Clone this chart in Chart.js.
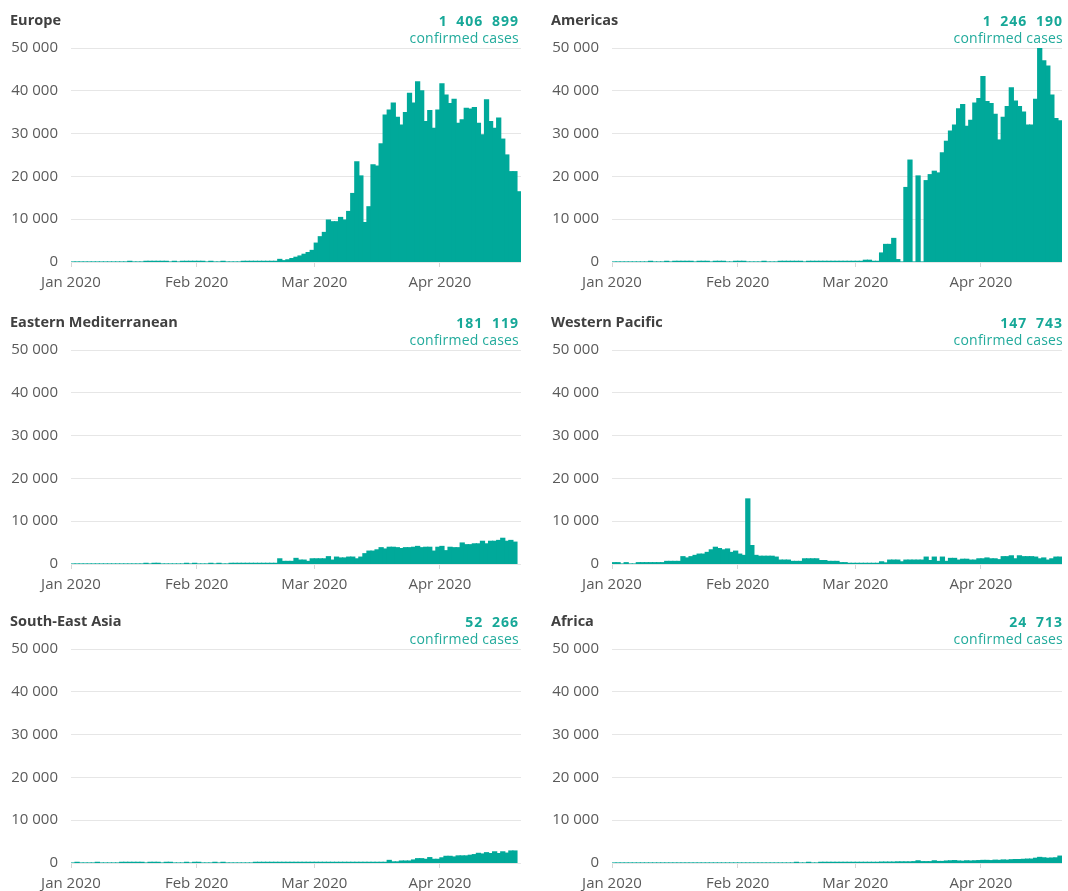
<!DOCTYPE html>
<html>
<head>
<meta charset="utf-8">
<script src="https://cdn.jsdelivr.net/npm/chart.js@4.4.1/dist/chart.umd.min.js"></script>
<style>
  body { margin: 0; background: #fff; width: 1068px; height: 891px; overflow: hidden; position: relative;
         font-family: "Open Sans", "Noto Sans", sans-serif; }
  canvas { position: absolute; z-index: 0; }
  .ttl { position: absolute; z-index: 1; font-size: 14.5px; line-height: 16px; font-weight: 700; color: #404040; white-space: nowrap; }
  .tot { position: absolute; z-index: 1; font-size: 14px; line-height: 16px; font-weight: 700; color: #17a898;
         letter-spacing: 1px; word-spacing: 4px; white-space: nowrap; text-align: right; }
  .sub { position: absolute; z-index: 1; font-size: 14px; line-height: 16px; color: #22ab9c; letter-spacing: 0.2px;
         white-space: nowrap; text-align: right; }
</style>
</head>
<body>
<script>
// Casos confirmados diarios por región OMS, 1 ene – 20 abr 2020 (111 días).
// Valores; 150 = trazo casi nulo sobre la base.
const DAYS = 111;
const monthStarts = [0, 31, 60, 91];
const monthLabels = ['Jan 2020', 'Feb 2020', 'Mar 2020', 'Apr 2020'];
const yMax = 50000, yStep = 10000;

const regions = ['Europe', 'Americas', 'Eastern Mediterranean', 'Western Pacific', 'South-East Asia', 'Africa'];
const totals = ['1 406 899', '1 246 190', '181 119', '147 743', '52 266', '24 713'];

const europe = [
  0,0,0,0,0,0,0,0,0,0, 0,0,0,0,150,0,0,0,150,150, 150,150,150,150,0,150,0,150,150,150, 150,
  150,150,0,150,0,0,150,0,0,0, 0,150,150,150,150,150,150,150,150,150, 600,300,500,800,1100,1400,1800,2200,2700,
  4400,5900,6900,9800,9400,9400,10400,9800,11800,16000, 23400,20100,9200,12900,22700,22400,27600,34300,35500,37100,
  33800,32000,34900,39400,37100,42100,40000,32800,35400,31200, 35500,
  41600,39000,37000,38000,32400,33200,35900,35700,36100,32400, 29700,37900,32800,31200,33600,28700,25000,21100,21100,16400
];
const americas = [
  0,0,0,0,0,0,0,0,0,150, 0,0,0,150,0,150,150,150,150,150, 0,150,150,150,0,150,150,150,0,0, 150,
  150,150,0,0,0,0,150,0,0,0, 150,150,150,150,150,150,0,150,150,150, 150,150,150,150,150,150,150,150,150,
  150,150,400,400,150,150,2100,4100,4100,5500, 550,0,17400,23800,0,20100,0,19000,20400,21200,
  20800,25500,28200,30600,32000,35800,36800,31700,33100,37100, 38200,
  43300,37500,37000,34500,28500,33800,36300,40700,37600,36300, 35000,32000,32000,38000,50000,47000,45800,39000,33500,33000
];
const eastMed = [
  0,0,0,0,0,0,0,0,0,0, 0,0,0,0,0,0,0,0,150,0, 150,150,0,0,0,0,0,0,150,0, 150,
  0,0,0,150,0,150,0,0,150,150, 150,150,150,150,150,150,150,150,150,150, 1200,600,600,600,1300,900,900,600,1200,
  1200,1200,1200,1700,900,1600,1400,1400,1600,1600, 1200,1600,2400,3000,3000,3300,3800,3500,3900,3900,
  3800,3600,3800,3800,3900,4100,3800,3900,3900,3000, 3900,
  4100,3100,3900,3800,3800,4900,4500,4500,4700,4700, 5300,4700,5300,5300,5500,6000,5300,5500,5100,null
];
const westPac = [
  300,300,0,300,0,0,300,300,300,300, 300,300,300,600,600,600,600,1700,1400,1700, 2000,2300,2300,2700,3300,3900,3600,3300,3500,2700, 3000,
  2300,2000,15200,4300,2000,1800,1800,1800,1800,1600, 900,900,900,600,600,600,1200,1200,1200,1200, 800,800,600,600,600,300,300,150,150,
  150,150,150,150,150,150,500,250,900,900, 900,500,900,900,900,900,900,1600,800,1600,
  600,1600,600,1300,1300,900,1100,1100,900,900, 1200,
  1200,1400,1200,1200,1000,1700,1700,1900,1200,1900, 1700,1700,1700,1600,1200,1400,900,1200,1600,1600
];
const seAsia = [
  0,150,0,0,0,0,150,0,0,0, 0,0,150,150,150,150,150,150,0,150, 150,150,0,150,150,0,0,0,150,0, 150,
  150,0,0,0,150,0,150,0,0,0, 0,0,0,0,150,150,150,150,150,150, 150,150,150,150,150,150,150,150,150,
  150,150,150,150,150,150,150,150,150,150, 150,150,150,150,150,150,150,150,600,250,
  250,450,450,450,700,1000,1000,850,1250,850, 850,
  1200,1550,1550,1400,1650,1650,1650,1800,1950,2250, 2100,2400,2200,2600,2200,2600,2300,2800,2800,null
];
const africa = [
  0,0,0,0,0,0,0,0,0,0, 0,0,0,0,0,0,0,0,0,0, 0,0,0,0,0,0,0,0,0,0, 0,
  0,0,0,0,0,0,0,0,0,0, 0,0,0,0,150,0,0,150,0,0, 150,150,150,150,150,150,150,150,150,
  150,150,150,150,150,150,200,200,200,200, 250,250,250,250,300,500,300,300,300,500,
  350,350,450,500,550,450,400,500,450,500, 550,
  600,600,550,650,600,700,650,750,800,800, 850,900,900,1100,1300,1200,1100,1150,1200,1600
];
const series = [europe, americas, eastMed, westPac, seAsia, africa];

const TEAL = '#00a99a';
const TICK_COLOR = '#5a5a5a';
const TICK_FONT = { family: '"Open Sans", sans-serif', size: 15 };

// Posición de cada panel: columna (x del lienzo, borde del texto), fila (desplazamiento vertical)
const colX = [0, 541];
const colRight = [519, 1063];
const rowOff = [0, 302, 601];
const PAD_TOP = 24;   // >= media etiqueta + padding del eje y, así el área queda fija

function miles(v) { return String(v).replace(/\B(?=(\d{3})+(?!\d))/g, ' '); }

function addText(cls, text, style) {
  const d = document.createElement('div');
  d.className = cls;
  d.textContent = text;
  Object.assign(d.style, style);
  document.body.appendChild(d);
}

function panel(k) {
  const col = k % 2, off = rowOff[Math.floor(k / 2)];
  const x0 = colX[col];

  addText('ttl', regions[k], { left: (x0 + 10) + 'px', top: (12 + off) + 'px' });
  addText('tot', totals[k], { right: (1068 - colRight[col]) + 'px', top: (13 + off) + 'px' });
  addText('sub', 'confirmed cases', { right: (1068 - colRight[col]) + 'px', top: (30 + off) + 'px' });

  const cv = document.createElement('canvas');
  cv.width = 529; cv.height = PAD_TOP + 214 + 32;
  cv.style.left = x0 + 'px';
  cv.style.top = (48 - PAD_TOP + off) + 'px';
  document.body.appendChild(cv);

  new Chart(cv, {
    type: 'bar',
    data: {
      datasets: [{
        data: series[k].map((v, i) => ({ x: i + 0.5, y: v })),
        backgroundColor: TEAL, borderWidth: 0, inflateAmount: 0.6,
        barPercentage: 1, categoryPercentage: 1,
      }],
    },
    options: {
      responsive: false, animation: false,
      layout: { padding: { top: PAD_TOP, right: 8, left: 0, bottom: 0 } },
      plugins: { legend: { display: false }, tooltip: { enabled: false } },
      scales: {
        x: {
          type: 'linear', min: 0, max: DAYS, offset: false,
          grid: { offset: false, drawOnChartArea: false, drawTicks: true, tickLength: 5, color: '#d6d6d6' },
          border: { display: false },
          afterBuildTicks: s => { s.ticks = monthStarts.map(v => ({ value: v })); },
          afterFit: s => { s.height = 32; },
          ticks: { autoSkip: false, maxRotation: 0, padding: 7, color: TICK_COLOR, font: TICK_FONT,
                   callback: (v, i) => monthLabels[i] },
        },
        y: {
          min: 0, max: yMax,
          grid: { color: '#e6e6e6', drawTicks: false },
          border: { display: false },
          afterFit: s => { s.width = 71; },
          ticks: { stepSize: yStep, padding: 13, color: TICK_COLOR, font: TICK_FONT, callback: v => miles(v) },
        },
      },
    },
  });
}

regions.forEach((_, k) => panel(k));
</script>
</body>
</html>
